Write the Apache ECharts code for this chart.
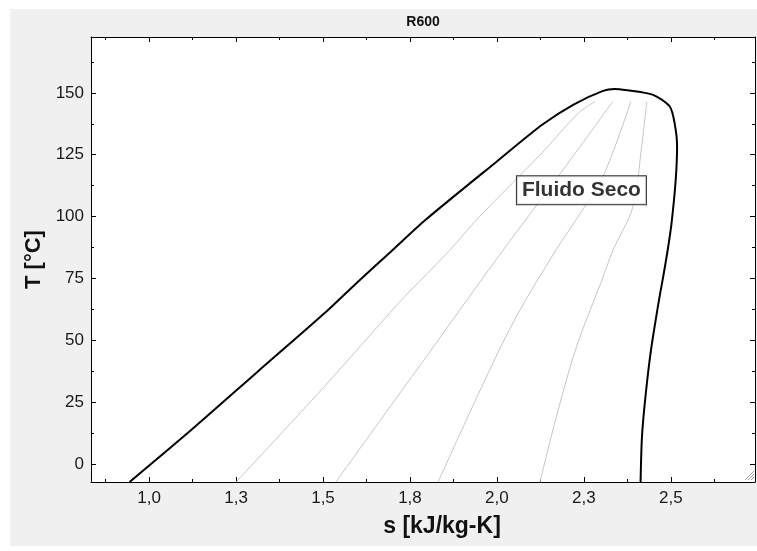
<!DOCTYPE html>
<html>
<head>
<meta charset="utf-8">
<script src="https://cdn.jsdelivr.net/npm/echarts@6/dist/echarts.min.js"></script>
<style>html,body{margin:0;padding:0;background:#fff;}#c{width:757px;height:551px;}</style>
</head>
<body>
<div id="c"></div>
<script>
// ---- data ----
const titleText = 'R600';
const xName = 's [kJ/kg-K]';
const yName = 'T [°C]';
const xMajorTicks = [1.0, 1.25, 1.5, 1.75, 2.0, 2.25, 2.5];
const xMinorTicks = [0.875, 1.125, 1.375, 1.625, 1.875, 2.125, 2.375, 2.625];
const yMajorTicks = [0, 25, 50, 75, 100, 125, 150];
const yMinorTicks = [12.5, 37.5, 62.5, 87.5, 112.5, 137.5, 162.5];
const xRange = [0.833, 2.742];
const yRange = [-7.3, 172.6];

// saturation dome (s, T): liquid branch then vapour branch
const domeS = [0.944, 1.121, 1.312, 1.504, 1.606, 1.695, 1.795, 1.999, 2.130, 2.219, 2.305, 2.339, 2.368, 2.449, 2.497, 2.511, 2.518, 2.514, 2.502, 2.491, 2.478, 2.466, 2.443, 2.427, 2.417, 2.413];
const domeT = [-7.3, 13.7, 37.3, 60.9, 74.4, 85.8, 98.7, 122.2, 137.1, 145.2, 150.8, 151.6, 151.2, 149.2, 144.5, 137.7, 128.3, 114.8, 97.3, 86.5, 75.6, 66.3, 46.1, 27.1, 10.9, -7.3];

// constant-quality lines (s, T)
const q1S = [1.250, 1.504, 1.721, 1.777, 1.865, 1.950, 2.124, 2.234, 2.282];
const q1T = [-7.3, 31.3, 65.6, 73.7, 86.5, 100.0, 124.9, 141.8, 146.5];
const q2S = [1.537, 1.724, 1.787, 1.859, 2.018, 2.176, 2.333];
const q2T = [-7.3, 29.2, 41.4, 55.5, 86.5, 116.2, 146.5];
const q3S = [1.831, 1.961, 2.056, 2.170, 2.240, 2.305, 2.385];
const q3T = [-7.3, 32.6, 59.6, 86.5, 101.4, 116.2, 146.5];
const q4S = [2.124, 2.171, 2.229, 2.302, 2.334, 2.391, 2.416, 2.431];
const q4T = [-7.3, 19.1, 47.4, 74.4, 86.5, 104.0, 128.3, 146.5];

const noteText = 'Fluido Seco';
const noteAt = [2.243, 110.6];

function pairs(a, b) { return a.map((v, i) => [v, b[i]]); }
function fmtX(v) { return v.toFixed(1).replace('.', ','); }

const FONT = '"Liberation Sans", Arial, sans-serif';

function mkX(pos, ticks, len, showLine, showLabel) {
  return {
    type: 'value', position: pos, offset: 0,
    min: xRange[0], max: xRange[1],
    splitLine: { show: false },
    axisLine: { show: showLine, onZero: false, lineStyle: { color: '#000', width: 1 } },
    axisTick: { show: true, inside: true, length: len, customValues: ticks, lineStyle: { color: '#000' } },
    axisLabel: showLabel ? { show: true, customValues: ticks, formatter: fmtX, color: '#1a1a1a', fontSize: 17, fontFamily: FONT, margin: 8 } : { show: false }
  };
}
function mkY(pos, ticks, len, showLine, showLabel) {
  return {
    type: 'value', position: pos, offset: 0,
    min: yRange[0], max: yRange[1],
    splitLine: { show: false },
    axisLine: { show: showLine, onZero: false, lineStyle: { color: '#000', width: 1 } },
    axisTick: { show: true, inside: true, length: len, customValues: ticks, lineStyle: { color: '#000' } },
    axisLabel: showLabel ? { show: true, customValues: ticks, color: '#1a1a1a', fontSize: 17, fontFamily: FONT, margin: 7 } : { show: false }
  };
}

const xAxes = [mkX('bottom', xMajorTicks, 5, true, true), mkX('bottom', xMinorTicks, 3, false, false),
               mkX('top', xMajorTicks, 5, true, false), mkX('top', xMinorTicks, 3, false, false)];

const yAxes = [mkY('left', yMajorTicks, 5, true, true), mkY('left', yMinorTicks, 3, false, false),
               mkY('right', yMajorTicks, 5, true, false), mkY('right', yMinorTicks, 3, false, false)];
yAxes[0].name = yName; yAxes[0].nameLocation = 'middle'; yAxes[0].nameGap = 44;
yAxes[0].nameTextStyle = { fontSize: 22, fontWeight: 'bold', color: '#111', fontFamily: FONT };

const qStyle = { color: '#c6c6c6', width: 1 };
function qLine(s, t) {
  return { type: 'line', data: pairs(s, t), showSymbol: false, symbol: 'none', smooth: 0.35,
           lineStyle: qStyle, silent: true, z: 2 };
}

const chart = echarts.init(document.getElementById('c'), null, { renderer: 'canvas' });
chart.setOption({
  backgroundColor: '#ffffff',
  animation: false,
  grid: { left: 91, top: 37, right: 2, bottom: 69, show: true, backgroundColor: '#ffffff', borderWidth: 0 },
  graphic: [
    { type: 'rect', z: -10, silent: true, shape: { x: 10, y: 9, width: 747, height: 537 }, style: { fill: '#f0f0f0' } },
    { type: 'text', x: 423, y: 22, z: 10, style: { text: titleText, textAlign: 'center', textVerticalAlign: 'middle', font: 'bold 14px ' + FONT, fill: '#111' } },
    { type: 'text', x: 442, y: 527, z: 10, style: { text: xName, textAlign: 'center', textVerticalAlign: 'middle', font: 'bold 23px ' + FONT, fill: '#111' } },
    { type: 'line', z: 10, shape: { x1: 745, y1: 480, x2: 754, y2: 471 }, style: { stroke: '#9a9a9a', lineWidth: 1 } },
    { type: 'line', z: 10, shape: { x1: 748, y1: 480, x2: 754, y2: 474 }, style: { stroke: '#9a9a9a', lineWidth: 1 } },
    { type: 'line', z: 10, shape: { x1: 751, y1: 480, x2: 754, y2: 477 }, style: { stroke: '#9a9a9a', lineWidth: 1 } }
  ],
  xAxis: xAxes,
  yAxis: yAxes,
  series: [
    qLine(q1S, q1T), qLine(q2S, q2T), qLine(q3S, q3T), qLine(q4S, q4T),
    { type: 'line', data: pairs(domeS, domeT), showSymbol: false, symbol: 'none', smooth: 0.25,
      lineStyle: { color: '#000', width: 2 }, z: 3 },
    { type: 'scatter', data: [noteAt], symbolSize: 0, z: 5,
      label: { show: true, position: 'inside', formatter: noteText, fontSize: 21, fontWeight: 'bold',
               fontFamily: FONT, color: '#000', backgroundColor: '#fff', borderColor: '#000', borderWidth: 1,
               padding: [4, 5, 3, 5] } }
  ]
});
</script>
</body>
</html>
